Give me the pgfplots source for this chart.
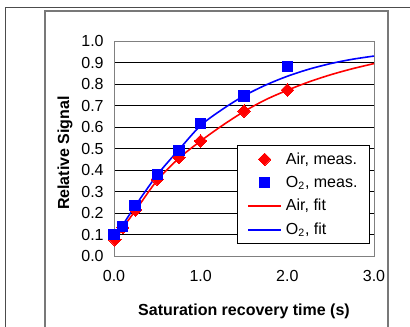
\documentclass[border=0pt]{standalone}
\usepackage{pgfplots}
\pgfplotsset{compat=1.18}
\usepackage{fontspec}
\setmainfont{Liberation Sans}
\definecolor{framegray}{RGB}{120,120,120}
\definecolor{axgray}{RGB}{128,128,128}
\definecolor{fitblue}{RGB}{0,0,255}
\begin{document}
\begin{tikzpicture}
\path[use as bounding box] (0,0) rectangle (307.5pt,244.5pt);
\clip (0,0) rectangle (307.5pt,244.5pt);
\draw[black!70, line width=0.75pt] (3.75pt,-10pt) rectangle (330pt,239.25pt);
\draw[framegray, line width=0.9pt] (33.75pt,-10pt) rectangle (291pt,236.25pt);
\begin{axis}[
  at={(85.5pt,52.5pt)}, anchor=south west,
  scale only axis, width=195pt, height=161.25pt,
  xmin=0, xmax=3, ymin=0, ymax=1,
  xtick={0,1,2,3},
  ytick={0.1,0.2,...,0.9},
  extra y ticks={0,1},
  extra y tick style={grid=none},
  ymajorgrids,
  grid style={black, line width=0.75pt},
  axis line style={axgray, line width=0.75pt},
  major tick length=0pt,
  tick style={draw=none},
  /pgf/number format/assume math mode=true,
  /pgf/number format/.cd, fixed, fixed zerofill, precision=1, /pgfplots/.cd,
  tick label style={font=\fontsize{12}{14}\selectfont},
  yticklabel style={xshift=-4.25pt},
  xticklabel style={yshift=-7pt},
  xlabel={Saturation recovery time (s)},
  ylabel={Relative Signal},
  label style={font=\fontsize{12}{14}\selectfont\bfseries},
  xlabel style={at={(axis description cs:0.5,0)}, anchor=center, yshift=-41.25pt},
  ylabel style={at={(axis description cs:0,0.479)}, anchor=center, yshift=36.75pt},
  clip=false,
  legend cell align=left,
  legend style={at={(rel axis cs:0.981,0.0558)}, anchor=south east,
    draw=black, fill=white,
    inner xsep=7pt, inner ysep=4pt, row sep=4.5pt,
    nodes={inner sep=1.5pt},
    /tikz/every odd column/.append style={column sep=1.5pt},
    font=\fontsize{12}{14}\selectfont},
]
\addplot[only marks, mark=square*, mark size=3.3pt, mark options={rotate=45, fill=red, draw=red, line width=0pt}, red,
  legend image code/.code={\path[draw=none] (0pt,0pt) -- (24.75pt,0pt); \path[draw=none] plot[only marks, mark=square*, mark size=3.3pt, mark options={rotate=45, fill=red, draw=red, line width=0pt}] coordinates {(12.4pt,0pt)};}]
  coordinates {(0.01,0.075) (0.1,0.133) (0.25,0.214) (0.5,0.357) (0.75,0.458) (1.0,0.535) (1.5,0.674) (2.0,0.772)};
\addlegendentry{Air, meas.}
\addplot[only marks, mark=square*, mark size=3.9pt, mark options={fill=blue, draw=blue, line width=0pt}, blue,
  legend image code/.code={\path[draw=none] (0pt,0pt) -- (24.75pt,0pt); \path[draw=none] plot[only marks, mark=square*, mark size=3.9pt, mark options={fill=blue, draw=blue, line width=0pt}] coordinates {(12.4pt,0pt)};}]
  coordinates {(0,0.10) (0.1,0.136) (0.24,0.236) (0.5,0.379) (0.75,0.492) (1.0,0.617) (1.5,0.744) (2.0,0.882)};
\addlegendentry{O\textsubscript{2}, meas.}
\addplot[red, line width=1.2pt, smooth, no marks,
  legend image code/.code={\draw[red, line width=1.2pt] (0pt,0pt) -- (24.75pt,0pt);}]
  coordinates {(0.01,0.07) (0.1,0.13) (0.25,0.213) (0.5,0.353) (0.75,0.455) (1.0,0.535) (1.25,0.607) (1.5,0.672) (1.75,0.727) (2.0,0.771) (2.25,0.81) (2.5,0.843) (2.75,0.871) (3.0,0.895)};
\addlegendentry{Air, fit}
\addplot[fitblue, line width=1.2pt, smooth, no marks,
  legend image code/.code={\draw[draw=fitblue, line width=1.4pt] (0pt,0pt) -- (24.75pt,0pt);}]
  coordinates {(0,0.10) (0.1,0.145) (0.25,0.236) (0.5,0.378) (0.75,0.495) (1.0,0.607) (1.25,0.682) (1.5,0.745) (1.75,0.795) (2.0,0.836) (2.25,0.869) (2.5,0.895) (2.75,0.915) (3.0,0.93)};
\addlegendentry{O\textsubscript{2}, fit}
\end{axis}
\end{tikzpicture}
\end{document}
